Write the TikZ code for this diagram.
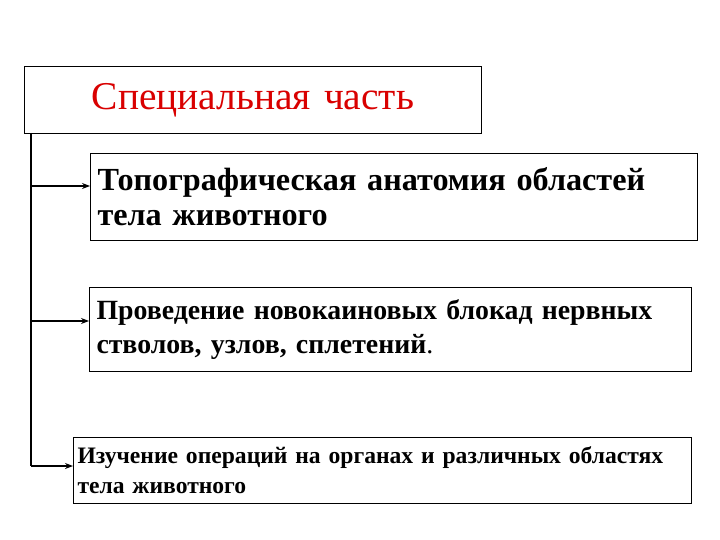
\documentclass[tikz,border=0pt]{standalone}
\usepackage{fontspec}
\setmainfont{Liberation Serif}
\usetikzlibrary{arrows.meta}
\begin{document}
\begin{tikzpicture}[x=1pt,y=-1pt,
  box/.style={draw=black, line width=1pt, rectangle, anchor=north west, inner xsep=7pt, inner ysep=0pt, align=left},
  conn/.style={line width=1.3pt, -{Stealth[length=8pt,width=6pt]}}]
\useasboundingbox[fill=white] (0,0) rectangle (720,540);
\node[box, minimum width=457pt, minimum height=67pt, text width=443pt, align=center, text=red!85!black, font=\fontsize{39.4}{42}\selectfont] (title) at (24,66) {Специальная часть};
\node[box, minimum width=607pt, minimum height=87pt, text width=593pt, font=\bfseries\fontsize{32.2}{35}\selectfont] (b1) at (90,153) {Топографическая анатомия областей\\тела животного};
\node[box, minimum width=602pt, minimum height=84pt, text width=588pt, font=\bfseries\fontsize{27.8}{34}\selectfont] (b2) at (89,287) {Проведение новокаиновых блокад нервных\\стволов, узлов, сплетений{\mdseries .}};
\node[box, inner xsep=4pt, minimum width=618pt, minimum height=66pt, text width=610pt, font=\bfseries\fontsize{23.6}{30}\selectfont] (b3) at (73,437) {\rule{0pt}{4pt}Изучение операций на органах и различных областях\\тела животного};
\coordinate (top) at (31,133);
\coordinate (j1) at (31,186);
\coordinate (j2) at (31,321);
\coordinate (j3) at (31,466);
\draw[line width=1.3pt] (top) -- (j3);
\draw[conn] (j1) -- (j1 -| b1.west);
\draw[conn] (j2) -- (j2 -| b2.west);
\draw[conn] (j3) -- (j3 -| b3.west);
\end{tikzpicture}
\end{document}
